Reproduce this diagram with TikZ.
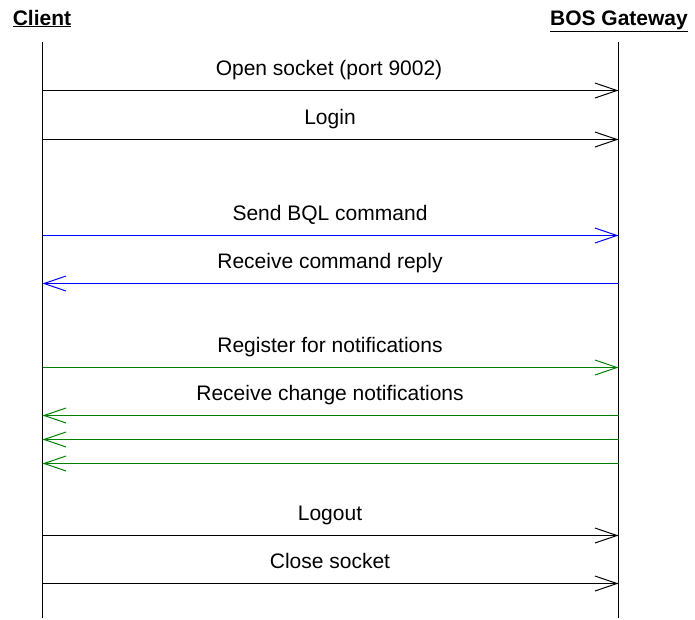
\documentclass[tikz,border=0pt]{standalone}
\usepackage{fontspec}
\setmainfont{Liberation Sans}
\usetikzlibrary{arrows.meta}
\definecolor{msgblue}{RGB}{0,0,255}
\definecolor{msggreen}{RGB}{0,128,0}
\begin{document}
\begin{tikzpicture}[x=1pt,y=-1pt,
  header/.style={anchor=base,font=\fontsize{21}{25}\selectfont\bfseries,inner sep=0pt},
  msglabel/.style={anchor=base,font=\fontsize{21}{25}\selectfont,inner sep=0pt},
  lifeline/.style={line width=1.5pt,draw=black},
  msg/.style={draw=#1,line width=1pt,-{Straight Barb[length=22pt,width=15pt]}},
  msg/.default=black]
  \useasboundingbox (0,0) rectangle (695,619);

  % lifelines
  \coordinate (ctop) at (42.5,42);
  \coordinate (cbot) at (42.5,618);
  \coordinate (gtop) at (618.5,42);
  \coordinate (gbot) at (618.5,618);
  \draw[lifeline] (ctop) -- (cbot);
  \draw[lifeline] (gtop) -- (gbot);

  % message ends on both lifelines (rows sit on pixel centres)
  \coordinate (c1) at (42.5,90.5);   \coordinate (g1) at (618.5,90.5);
  \coordinate (c2) at (42.5,139.5);  \coordinate (g2) at (618.5,139.5);
  \coordinate (c3) at (42.5,235.5);  \coordinate (g3) at (618.5,235.5);
  \coordinate (c4) at (42.5,283.5);  \coordinate (g4) at (618.5,283.5);
  \coordinate (c5) at (42.5,367.5);  \coordinate (g5) at (618.5,367.5);
  \coordinate (c6) at (42.5,415.5);  \coordinate (g6) at (618.5,415.5);
  \coordinate (c7) at (42.5,439.5);  \coordinate (g7) at (618.5,439.5);
  \coordinate (c8) at (42.5,463.5);  \coordinate (g8) at (618.5,463.5);
  \coordinate (c9) at (42.5,535.5);  \coordinate (g9) at (618.5,535.5);
  \coordinate (c10) at (42.5,583.5); \coordinate (g10) at (618.5,583.5);

  % connection setup
  \draw[msg=black] (c1) -- (g1);
  \draw[msg=black] (c2) -- (g2);

  % command and reply
  \draw[msg=msgblue] (c3) -- (g3);
  \draw[msg=msgblue] (g4) -- (c4);

  % notifications
  \draw[msg=msggreen] (c5) -- (g5);
  \draw[msg=msggreen] (g6) -- (c6);
  \draw[msg=msggreen] (g7) -- (c7);
  \draw[msg=msggreen] (g8) -- (c8);

  % teardown
  \draw[msg=black] (c9) -- (g9);
  \draw[msg=black] (c10) -- (g10);

  % participants
  \node[header] (client) at (42,25) {\underline{Client}};
  \node[header] (gateway) at (619,25) {\underline{BOS Gateway}};

  % message labels
  \node[msglabel] (l1) at (329,75) {Open socket (port 9002)};
  \node[msglabel] (l2) at (330,124) {Login};
  \node[msglabel] (l3) at (330,220) {Send BQL command};
  \node[msglabel] (l4) at (330,268) {Receive command reply};
  \node[msglabel] (l5) at (330,352) {Register for notifications};
  \node[msglabel] (l6) at (330,400) {Receive change notifications};
  \node[msglabel] (l9) at (330,520) {Logout};
  \node[msglabel] (l10) at (330,568) {Close socket};
\end{tikzpicture}
\end{document}
